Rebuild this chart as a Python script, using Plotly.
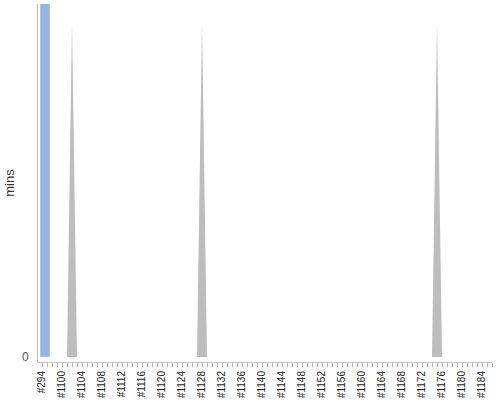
import plotly.graph_objects as go

# Build labels: first build #294, then #1097 .. #1186
builds = ["#294"] + [f"#{n}" for n in range(1097, 1187)]
# Build time in minutes (only non-zero values listed)
blue_builds = ["#294"]
blue_mins = [20.0]
gray_mins_by_build = {"#1102": 19.0, "#1128": 19.0, "#1175": 19.0}
gray_mins = [gray_mins_by_build.get(b, 0.0) for b in builds]
tick_labels = [b if i % 4 == 0 else "" for i, b in enumerate(builds)]

fig = go.Figure()
fig.add_trace(go.Scatter(
    x=builds, y=gray_mins, mode="lines", fill="tozeroy",
    line=dict(width=0, color="#bdbdbd"), fillcolor="#bdbdbd",
    hoverinfo="skip", showlegend=False,
))
fig.add_trace(go.Bar(
    x=blue_builds, y=blue_mins, width=1.7, offset=-0.2,
    marker=dict(color="#93b5e1", line=dict(width=1, color="#b8c4d4")),
    showlegend=False,
))

fig.update_layout(
    width=500, height=400,
    margin=dict(l=38, r=8, t=4, b=38),
    paper_bgcolor="white", plot_bgcolor="white",
    font=dict(family="Liberation Sans, Arial, sans-serif", color="#222222"),
    bargap=0,
)
fig.update_xaxes(
    type="category", categoryorder="array", categoryarray=builds,
    range=[-0.8, 90.0], automargin=False,
    tickmode="array", tickvals=builds, ticktext=tick_labels,
    tickangle=-90, tickfont=dict(size=10, color="#222222"),
    ticks="outside", ticklen=4, tickcolor="#b0b0b0", tickwidth=1,
    showline=True, linecolor="#c8c8c8", linewidth=1,
    showgrid=False, zeroline=False,
)
fig.update_yaxes(
    range=[-0.28, 20.0], automargin=False,
    tickmode="array", tickvals=[0], ticktext=["0"],
    tickfont=dict(size=12, color="#555555"),
    ticks="outside", ticklen=6, tickcolor="#ffffff",
    showline=True, linecolor="#c0c0c0", linewidth=1,
    showgrid=False, zeroline=False,
    title=dict(text="mins", font=dict(size=13, color="#333333"), standoff=4),
)

fig.write_html(
    "out.html",
    config={"displayModeBar": False},
    post_script="document.body.style.margin='0';document.body.style.padding='0';",
)
